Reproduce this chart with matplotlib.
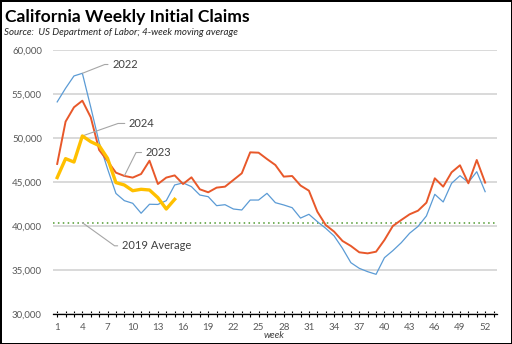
import matplotlib
matplotlib.use("Agg")
import matplotlib.pyplot as plt

plt.rcParams['font.family'] = ['Lato', 'DejaVu Sans']

# weekly initial claims, 4-week moving average
weeks = list(range(1, 53))
claims_2022 = [
    54100, 55650, 57050, 57350, 53500, 49500, 46500, 43700, 42880, 42580,
    41450, 42470, 42450, 42880, 44660, 44900, 44470, 43520, 43330, 42310,
    42420, 41930, 41820, 42950, 42950, 43710, 42650, 42390, 42080, 40900,
    41330, 40500, 39740, 38870, 37460, 35830, 35190, 34810, 34510, 36400,
    37200, 38100, 39180, 39950, 41140, 43600, 42730, 44850, 45720, 44960,
    46170, 43900,
]
claims_2023 = [
    47050, 51860, 53490, 54240, 52350, 48640, 47390, 46060, 45690, 45500,
    45910, 47420, 44770, 45500, 45750, 44770, 45530, 44170, 43830, 44360,
    44470, 45230, 45990, 48370, 48330, 47610, 46930, 45610, 45680, 44600,
    44010, 41630, 40110, 39360, 38300, 37730, 37010, 36890, 37080, 38410,
    40000, 40680, 41330, 41740, 42650, 45420, 44470, 46100, 46900, 44850,
    47500, 44930,
]
claims_2024 = [
    45500, 47650, 47270, 50230, 49580, 49130, 47690, 44930, 44660, 44010,
    44170, 44090, 43220, 41930, 43030,
]
avg_2019 = 40380

fig = plt.figure(figsize=(5.12, 3.44), dpi=100)
fig.patch.set_edgecolor('black')
fig.patch.set_linewidth(2)
ax = fig.add_axes([0.1035, 0.0872, 0.867, 0.7675])

ax.plot(weeks, claims_2022, color='#5b9bd5', lw=0.9, zorder=3)
ax.plot(weeks, claims_2023, color='#e8582a', lw=1.4, zorder=3)
ax.plot(weeks[:len(claims_2024)], claims_2024, color='#ffc000', lw=2.4, zorder=4)
ax.axhline(avg_2019, color='#4f9a2f', lw=1.1, ls=(0, (1, 2.2)), zorder=2)

ax.set_xlim(0.5, 53.4)
ax.set_ylim(30000, 60000)
ax.set_yticks(range(30000, 60001, 5000))
ax.set_yticklabels([f'{v:,}' for v in range(30000, 60001, 5000)])
ax.set_xticks(range(1, 53, 3))
ax.set_xticks(range(1, 54), minor=True)
ax.grid(axis='y', color='#d9d9d9', lw=1.4, zorder=0)
ax.set_axisbelow(True)

for s in ['left', 'right', 'top']:
    ax.spines[s].set_visible(False)
ax.spines['bottom'].set_color('black')
ax.spines['bottom'].set_linewidth(0.9)
ax.spines['bottom'].set_zorder(5)
ax.tick_params(axis='y', length=0, labelsize=7, labelcolor='#595959', pad=8)
ax.tick_params(axis='x', which='both', direction='inout', length=5, width=0.8,
               labelsize=7, labelcolor='#595959', pad=4)
ax.set_xlabel('week', fontsize=7, style='italic', color='#404040')
ax.xaxis.set_label_coords(0.498, -0.065)

label_kw = dict(fontsize=8, color='#404040', va='center', ha='left')
lead = dict(arrowstyle='-', color='#a6a6a6', lw=0.8, shrinkA=1, shrinkB=0)
ax.annotate('2022', xy=(4, claims_2022[3]), xytext=(7.55, 58350), **label_kw,
            arrowprops=dict(**lead, connectionstyle='angle,angleA=0,angleB=21.5,rad=0'))
ax.annotate('2024', xy=(4, claims_2024[3]), xytext=(9.55, 51650), **label_kw,
            arrowprops=dict(**lead, connectionstyle='angle,angleA=0,angleB=19.3,rad=0'))
ax.annotate('2023', xy=(9, claims_2023[8]), xytext=(11.55, 48350), **label_kw,
            arrowprops=dict(**lead, connectionstyle='angle,angleA=0,angleB=63.4,rad=0'))
ax.annotate('2019 Average', xy=(4, avg_2019), xytext=(8.7, 37750), **label_kw,
            arrowprops=dict(**lead, connectionstyle='angle,angleA=0,angleB=-35.7,rad=0'))

fig.text(0.01, 0.975, 'California Weekly Initial Claims', fontsize=12.6,
         fontweight='bold', color='black', va='top', ha='left')
fig.text(0.008, 0.905, 'Source:  US Department of Labor; 4-week moving average',
         fontsize=7, style='italic', color='#262626', va='center', ha='left')

fig.savefig('out.png', dpi=100, edgecolor=fig.get_edgecolor())
